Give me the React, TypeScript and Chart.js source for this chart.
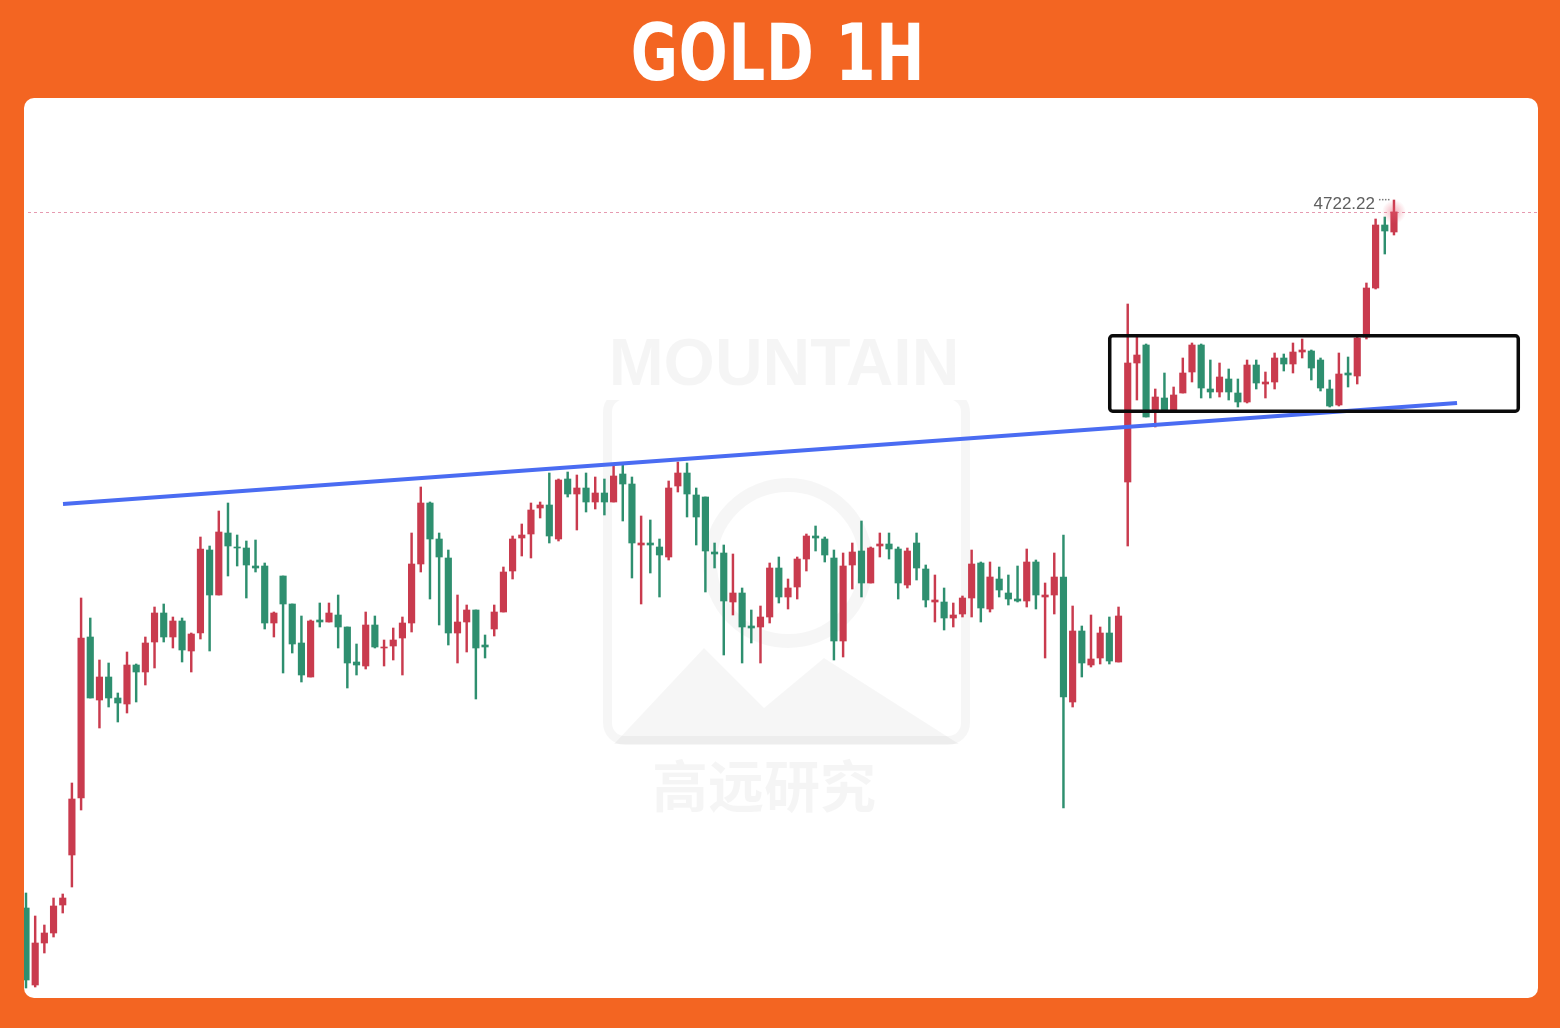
import React, { useEffect, useRef } from "react";
import { Chart, registerables } from "chart.js";

Chart.register(...registerables);

// ---- Data (hourly OHLC) ----
const opens = [
  4583.0, 4567.6, 4576.0, 4578.0, 4583.6, 4593.6, 4605.0, 4637.2, 4624.6, 4629.2,
  4625.0, 4623.8, 4631.6, 4630.2, 4636.2, 4642.0, 4637.2, 4640.4, 4634.4, 4638.0,
  4654.6, 4645.6, 4658.0, 4655.2, 4655.0, 4651.4, 4651.4, 4640.0, 4649.4, 4643.8,
  4636.0, 4629.2, 4640.6, 4640.2, 4641.6, 4639.2, 4632.2, 4631.4, 4639.6, 4635.0,
  4635.4, 4637.0, 4640.0, 4651.8, 4664.0, 4656.8, 4653.0, 4638.0, 4640.2, 4642.6,
  4635.6, 4638.8, 4642.2, 4650.4, 4657.0, 4657.8, 4663.0, 4663.6, 4656.8, 4668.8,
  4665.8, 4667.0, 4664.2, 4666.0, 4664.2, 4669.8, 4667.8, 4655.6, 4656.0, 4655.2,
  4653.2, 4667.4, 4670.0, 4665.6, 4665.2, 4654.2, 4654.0, 4644.2, 4646.0, 4639.4,
  4639.2, 4641.2, 4651.0, 4645.2, 4647.2, 4652.8, 4657.4, 4656.8, 4653.0, 4636.4,
  4651.6, 4654.4, 4648.0, 4655.4, 4655.8, 4654.8, 4647.6, 4656.0, 4650.8, 4644.2,
  4644.2, 4641.0, 4641.8, 4645.0, 4652.0, 4642.8, 4648.8, 4646.0, 4644.8, 4644.4,
  4652.2, 4645.2, 4645.6, 4649.2, 4624.2, 4638.4, 4631.6, 4633.0, 4638.0, 4632.2,
  4668.2, 4692.0, 4695.6, 4682.6, 4685.0, 4682.6, 4686.0, 4690.2, 4695.6, 4686.8,
  4686.2, 4688.8, 4686.0, 4684.2, 4691.6, 4687.8, 4688.2, 4693.0, 4691.8, 4694.2,
  4694.4, 4692.6, 4686.8, 4683.6, 4690.0, 4689.4, 4697.2, 4707.0, 4719.6, 4718.2,
];

const highs = [
  4586.0, 4581.4, 4579.6, 4585.0, 4585.8, 4608.0, 4645.0, 4641.0, 4632.6, 4632.0,
  4626.0, 4634.2, 4631.8, 4637.2, 4643.2, 4643.8, 4641.2, 4641.0, 4638.0, 4657.2,
  4655.4, 4662.4, 4664.0, 4657.6, 4656.4, 4656.6, 4652.0, 4642.2, 4649.4, 4643.8,
  4641.4, 4640.6, 4644.0, 4644.0, 4645.6, 4639.2, 4635.8, 4642.2, 4641.4, 4636.6,
  4639.0, 4641.2, 4658.0, 4667.2, 4664.2, 4658.0, 4654.6, 4645.6, 4643.6, 4642.6,
  4637.6, 4643.6, 4651.2, 4657.4, 4659.8, 4664.0, 4664.2, 4670.0, 4668.8, 4670.2,
  4669.6, 4670.0, 4669.2, 4668.8, 4671.6, 4671.6, 4669.2, 4661.4, 4660.6, 4656.8,
  4668.4, 4672.2, 4672.0, 4667.0, 4665.2, 4656.0, 4655.6, 4653.8, 4647.0, 4642.6,
  4643.4, 4652.0, 4653.2, 4648.8, 4653.2, 4657.8, 4659.4, 4657.2, 4654.6, 4654.0,
  4656.0, 4660.4, 4655.2, 4658.0, 4658.0, 4655.2, 4655.0, 4658.0, 4651.6, 4649.6,
  4647.0, 4644.0, 4645.4, 4654.6, 4652.2, 4652.2, 4651.2, 4649.6, 4651.4, 4654.8,
  4652.6, 4648.0, 4654.0, 4657.6, 4643.4, 4639.4, 4641.6, 4639.2, 4641.2, 4643.2,
  4703.8, 4697.2, 4695.8, 4686.8, 4690.0, 4687.2, 4693.0, 4696.0, 4695.8, 4692.6,
  4692.0, 4690.8, 4688.8, 4692.6, 4692.6, 4690.2, 4694.0, 4693.8, 4696.0, 4696.8,
  4694.6, 4693.0, 4688.6, 4694.0, 4693.2, 4697.6, 4708.0, 4720.8, 4721.2, 4724.6,
];

const lows = [
  4567.0, 4567.2, 4574.0, 4577.2, 4582.0, 4587.2, 4602.6, 4625.0, 4619.0, 4623.2,
  4620.2, 4622.0, 4624.2, 4627.6, 4631.0, 4636.2, 4635.0, 4632.2, 4630.2, 4636.8,
  4634.4, 4645.6, 4649.4, 4651.4, 4645.0, 4650.2, 4638.8, 4637.2, 4630.0, 4634.0,
  4628.2, 4629.2, 4639.2, 4640.2, 4635.0, 4627.0, 4629.6, 4630.8, 4635.0, 4631.4,
  4632.6, 4629.6, 4638.2, 4650.2, 4644.8, 4639.6, 4635.6, 4632.0, 4634.2, 4624.8,
  4633.0, 4637.4, 4642.2, 4648.8, 4653.4, 4653.0, 4661.0, 4656.0, 4656.4, 4665.2,
  4658.6, 4662.2, 4662.8, 4661.6, 4664.2, 4660.4, 4649.0, 4643.8, 4650.0, 4645.2,
  4652.6, 4666.2, 4661.2, 4655.6, 4646.2, 4651.0, 4633.6, 4641.6, 4632.0, 4636.0,
  4632.0, 4640.0, 4644.0, 4642.8, 4644.8, 4650.4, 4654.4, 4652.2, 4632.6, 4633.2,
  4646.8, 4645.2, 4648.0, 4653.2, 4652.8, 4644.8, 4647.0, 4648.6, 4643.2, 4640.2,
  4638.6, 4639.2, 4641.2, 4641.2, 4640.2, 4642.2, 4645.2, 4643.6, 4644.2, 4643.2,
  4642.8, 4633.0, 4641.8, 4603.0, 4623.2, 4629.2, 4631.2, 4631.8, 4631.8, 4632.2,
  4655.4, 4684.6, 4681.2, 4679.2, 4682.6, 4682.6, 4686.0, 4688.2, 4685.0, 4685.0,
  4685.2, 4684.6, 4683.2, 4684.0, 4686.8, 4685.0, 4686.8, 4690.4, 4690.0, 4693.0,
  4688.6, 4686.4, 4683.2, 4683.4, 4687.2, 4687.8, 4696.8, 4706.8, 4713.8, 4717.6,
];

const closes = [
  4568.6, 4576.0, 4578.0, 4583.4, 4585.0, 4604.8, 4637.0, 4625.0, 4629.2, 4625.0,
  4624.0, 4631.6, 4630.2, 4636.0, 4642.0, 4637.2, 4640.4, 4634.6, 4637.8, 4654.8,
  4645.6, 4658.2, 4655.4, 4655.0, 4651.6, 4651.0, 4640.0, 4642.0, 4643.8, 4635.8,
  4629.6, 4640.4, 4640.2, 4642.0, 4639.2, 4632.0, 4631.6, 4639.6, 4635.2, 4635.2,
  4636.6, 4640.0, 4651.8, 4664.0, 4656.8, 4653.2, 4638.0, 4640.2, 4642.6, 4635.0,
  4635.2, 4642.2, 4650.2, 4656.8, 4657.6, 4662.6, 4663.6, 4657.4, 4668.6, 4665.8,
  4667.0, 4664.2, 4666.0, 4664.2, 4669.4, 4667.8, 4656.0, 4656.0, 4655.6, 4653.6,
  4667.0, 4670.0, 4665.8, 4661.2, 4654.4, 4653.8, 4644.4, 4646.0, 4639.2, 4639.0,
  4641.2, 4651.0, 4645.2, 4647.0, 4652.8, 4657.4, 4657.0, 4653.6, 4636.4, 4651.4,
  4654.2, 4648.0, 4655.0, 4655.8, 4654.8, 4648.0, 4654.4, 4651.0, 4644.6, 4644.6,
  4641.0, 4641.6, 4645.0, 4651.8, 4643.0, 4649.2, 4646.6, 4644.8, 4644.4, 4652.2,
  4645.6, 4645.6, 4649.2, 4625.2, 4638.4, 4632.0, 4632.8, 4638.0, 4632.4, 4641.4,
  4692.0, 4693.6, 4681.2, 4685.2, 4682.6, 4685.6, 4690.0, 4695.6, 4687.0, 4686.2,
  4689.2, 4686.2, 4684.2, 4691.6, 4688.0, 4688.2, 4693.0, 4691.8, 4694.2, 4694.6,
  4691.0, 4687.0, 4683.4, 4689.8, 4689.6, 4697.0, 4707.0, 4719.6, 4718.4, 4722.22,
];

const lastPrice = 4722.22;
const lastPriceLabel = "4722.22";

// trend line (bar index, price)
const trendX = [4.03, 155.87];
const trendY = [4663.8, 4684.0];

// consolidation box (bar index range, price range)
const boxX = [117.85, 162.73];
const boxY = [4682.0, 4697.8];

// visible window
const xRange = [-0.218, 164.688];
const yRange = [4565.0, 4745.0];

const UP = "#c93b4e";
const DOWN = "#2e8f6f";

const overlayPlugin = {
  id: "overlay",
  beforeDatasetsDraw(chart: any) {
    const { ctx, scales, chartArea } = chart;
    const y = scales.y.getPixelForValue(lastPrice);
    ctx.save();
    ctx.strokeStyle = "rgba(222,120,150,0.75)";
    ctx.lineWidth = 1;
    ctx.setLineDash([3, 3]);
    ctx.beginPath();
    ctx.moveTo(chartArea.left + 4, Math.round(y) + 0.5);
    ctx.lineTo(chartArea.right, Math.round(y) + 0.5);
    ctx.stroke();
    ctx.restore();
  },
  afterDatasetsDraw(chart: any) {
    const { ctx, scales } = chart;
    const xs = scales.x;
    const ys = scales.y;
    ctx.save();
    // box
    const x0 = xs.getPixelForValue(boxX[0]);
    const x1 = xs.getPixelForValue(boxX[1]);
    const y0 = ys.getPixelForValue(boxY[1]);
    const y1 = ys.getPixelForValue(boxY[0]);
    ctx.strokeStyle = "#0b0b0b";
    ctx.lineWidth = 3.5;
    ctx.lineJoin = "round";
    ctx.beginPath();
    (ctx as any).roundRect
      ? (ctx as any).roundRect(x0 + 1.75, y0 + 1.75, x1 - x0 - 3.5, y1 - y0 - 3.5, 3)
      : ctx.rect(x0 + 1.75, y0 + 1.75, x1 - x0 - 3.5, y1 - y0 - 3.5);
    ctx.stroke();

    // last price glow
    const lx = xs.getPixelForValue(opens.length - 1);
    const ly = ys.getPixelForValue(lastPrice);
    const g = ctx.createRadialGradient(lx, ly, 0, lx, ly, 12);
    g.addColorStop(0, "rgba(230,90,110,0.45)");
    g.addColorStop(1, "rgba(230,90,110,0)");
    ctx.fillStyle = g;
    ctx.beginPath();
    ctx.arc(lx, ly, 12, 0, Math.PI * 2);
    ctx.fill();

    // label
    ctx.font = "17px 'Liberation Sans', Arial, sans-serif";
    ctx.fillStyle = "#5f5f5f";
    ctx.textAlign = "right";
    ctx.textBaseline = "alphabetic";
    ctx.fillText(lastPriceLabel, lx - 19, ly - 3);
    ctx.fillStyle = "#7a7a7a";
    for (let k = 0; k < 4; k++) {
      ctx.fillRect(lx - 15 + k * 3, ly - 13, 1.5, 1.5);
    }
    ctx.restore();
  },
};

export default function App() {
  const ref = useRef<HTMLCanvasElement | null>(null);

  useEffect(() => {
    document.body.style.margin = "0";
    const canvas = ref.current;
    if (!canvas) return;
    const idx = opens.map((_, i) => i);
    const colors = idx.map((i) => (closes[i] >= opens[i] ? UP : DOWN));
    const chart = new Chart(canvas, {
      type: "bar",
      data: {
        datasets: [
          {
            type: "bar",
            data: idx.map((i) => ({ x: i, y: [lows[i], highs[i]] })) as any,
            backgroundColor: colors,
            barThickness: 1.8,
            grouped: false,
            order: 2,
          } as any,
          {
            type: "bar",
            data: idx.map((i) => ({ x: i, y: [opens[i], closes[i]] })) as any,
            backgroundColor: colors,
            barThickness: 6.5,
            minBarLength: 1,
            grouped: false,
            order: 1,
          } as any,
          {
            type: "line",
            data: trendX.map((x, k) => ({ x, y: trendY[k] })) as any,
            borderColor: "#4a6cf2",
            borderWidth: 4,
            pointRadius: 0,
            order: 0,
          } as any,
        ],
      },
      options: {
        animation: false,
        responsive: false,
        events: [],
        layout: { padding: 0 },
        plugins: { legend: { display: false }, tooltip: { enabled: false } },
        scales: {
          x: { type: "linear", min: xRange[0], max: xRange[1], display: false, offset: false },
          y: { type: "linear", min: yRange[0], max: yRange[1], display: false },
        },
      },
      plugins: [overlayPlugin],
    });
    return () => chart.destroy();
  }, []);

  const faint = "rgba(0,0,0,0.035)";

  return (
    <div
      style={{
        position: "fixed",
        left: 0,
        top: 0,
        width: 1560,
        height: 1028,
        background: "#f36522",
        overflow: "hidden",
      }}
    >
      <div
        style={{
          position: "absolute",
          left: 0,
          top: 13,
          width: 1560,
          textAlign: "center",
          color: "#ffffff",
          fontFamily: '"DejaVu Sans Condensed", "DejaVu Sans", sans-serif',
          fontWeight: 700,
          fontSize: 78,
          lineHeight: "80px",
          whiteSpace: "nowrap",
          transform: "translateX(-2px) scaleX(0.82)",
          transformOrigin: "center",
          letterSpacing: 1,
        }}
      >
        GOLD 1H
      </div>
      <div
        style={{
          position: "absolute",
          left: 24,
          top: 98,
          width: 1514,
          height: 900,
          background: "#ffffff",
          borderRadius: 10,
          overflow: "hidden",
        }}
      >
        {/* watermark */}
        <div
          style={{
            position: "absolute",
            left: 579,
            top: 292,
            width: 367,
            height: 355,
            border: `9px solid ${faint}`,
            borderRadius: 22,
            boxSizing: "border-box",
          }}
        />
        <svg width={1514} height={900} style={{ position: "absolute", left: 0, top: 0 }}>
          <polygon points="590,646 680,550 740,610 800,560 935,646" fill={faint} />
          <circle cx={764} cy={465} r={78} fill="none" stroke={faint} strokeWidth={14} />
        </svg>
        <div
          style={{
            position: "absolute",
            left: 560,
            top: 226,
            width: 400,
            textAlign: "center",
            fontFamily: '"Liberation Sans", Arial, sans-serif',
            fontWeight: 700,
            fontSize: 66,
            color: "rgba(0,0,0,0.04)",
            background: "#fff",
            lineHeight: "76px",
          }}
        >
          MOUNTAIN
        </div>
        <div
          style={{
            position: "absolute",
            left: 540,
            top: 650,
            width: 400,
            textAlign: "center",
            fontFamily: '"Noto Sans CJK SC", sans-serif',
            fontWeight: 700,
            fontSize: 56,
            color: "rgba(0,0,0,0.04)",
            lineHeight: "70px",
          }}
        >
          高远研究
        </div>
        <canvas
          ref={ref}
          width={1514}
          height={900}
          style={{ position: "absolute", left: 0, top: 0, width: 1514, height: 900 }}
        />
      </div>
    </div>
  );
}
